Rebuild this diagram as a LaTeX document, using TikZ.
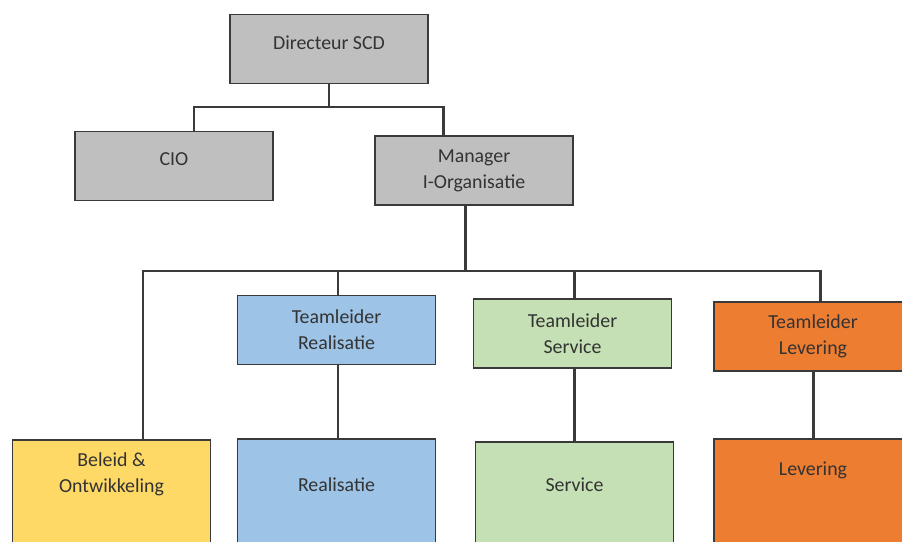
\documentclass[tikz,border=0pt]{standalone}
\usepackage{fontspec}
\setmainfont{Carlito}
\usepackage{tikz}
\usetikzlibrary{positioning}
\definecolor{mgray}{HTML}{BFBFBF}
\definecolor{mblue}{HTML}{9DC3E6}
\definecolor{mgreen}{HTML}{C5E0B4}
\definecolor{morange}{HTML}{ED7D31}
\definecolor{myellow}{HTML}{FFD966}
\definecolor{mline}{HTML}{3A3A3A}
\tikzset{box/.style = {draw = mline, line width = 1.1pt, rectangle, minimum width = 3.96cm, minimum height = 1.38cm, inner sep = 0, align = center, text = black!80, font = \fontsize{11.3}{14.7}\selectfont}}
\tikzset{tallbox/.style = {box, anchor = north, minimum height = 2.6cm}}
\tikzset{lbl/.style = {align = center, text = black!80, font = \fontsize{11.3}{14.7}\selectfont}}
\tikzset{conn/.style = {draw = mline, line width = 1.7pt}}

\begin{document}
\begin{tikzpicture}[x = 0.02cm, y = -0.02cm]
      \useasboundingbox (0, 0) rectangle (902, 541);
      \clip (0, 0) rectangle (902, 541);
      % top
      \node [box, fill = mgray, text depth = 7.6pt] (dir) at (329, 49) {Directeur SCD};
      \node [box, fill = mgray, text depth = 7.6pt] (cio) at (174, 166) {CIO};
      \node [box, fill = mgray] (man) at (474, 170.5) {Manager\\I-Organisatie};
      % team leaders
      \node [box, fill = mblue] (tlr) at (336.5, 330) {Teamleider\\Realisatie};
      \node [box, fill = mgreen] (tls) at (572.5, 333.5) {Teamleider\\Service};
      \node [box, fill = morange] (tll) at (813, 336.5) {Teamleider\\Levering};
      % teams
      \node [tallbox, fill = myellow] (bel) at (111.5, 439) {};
      \node [tallbox, fill = mblue] (rea) at (336.5, 438) {};
      \node [tallbox, fill = mgreen] (ser) at (574.5, 441) {};
      \node [tallbox, fill = morange] (lev) at (813, 438) {};
      \node [lbl] (beltxt) at (111.5, 474) {Beleid \&\\Ontwikkeling};
      \node [lbl] (reatxt) at (336.5, 485) {Realisatie};
      \node [lbl] (sertxt) at (574.5, 485) {Service};
      \node [lbl] (levtxt) at (813, 470) {Levering};
      % connectors
      \coordinate (tl) at (194, 107);
      \coordinate (tr) at (443, 107);
      \draw [conn] (dir.south) -- (dir.south |- tl);
      \draw [conn] (tl |- cio.north) -- (tl) -- (tr) -- (tr |- man.north);
      \coordinate (mb) at (465, 271);
      \coordinate (bl) at (143, 271);
      \coordinate (br) at (820, 271);
      \coordinate (b2) at (338, 271);
      \coordinate (b3) at (574, 271);
      \draw [conn] (mb |- man.south) -- (mb);
      \draw [conn] (bl |- bel.north) -- (bl) -- (br) -- (br |- tll.north);
      \draw [conn] (b2) -- (b2 |- tlr.north);
      \draw [conn] (b3) -- (b3 |- tls.north);
      \draw [conn] (tlr.south -| b2) -- (rea.north -| b2);
      \draw [conn] (ser.north) -- (ser.north |- tls.south);
      \draw [conn] (tll.south) -- (lev.north);
    \end{tikzpicture}
\end{document}
